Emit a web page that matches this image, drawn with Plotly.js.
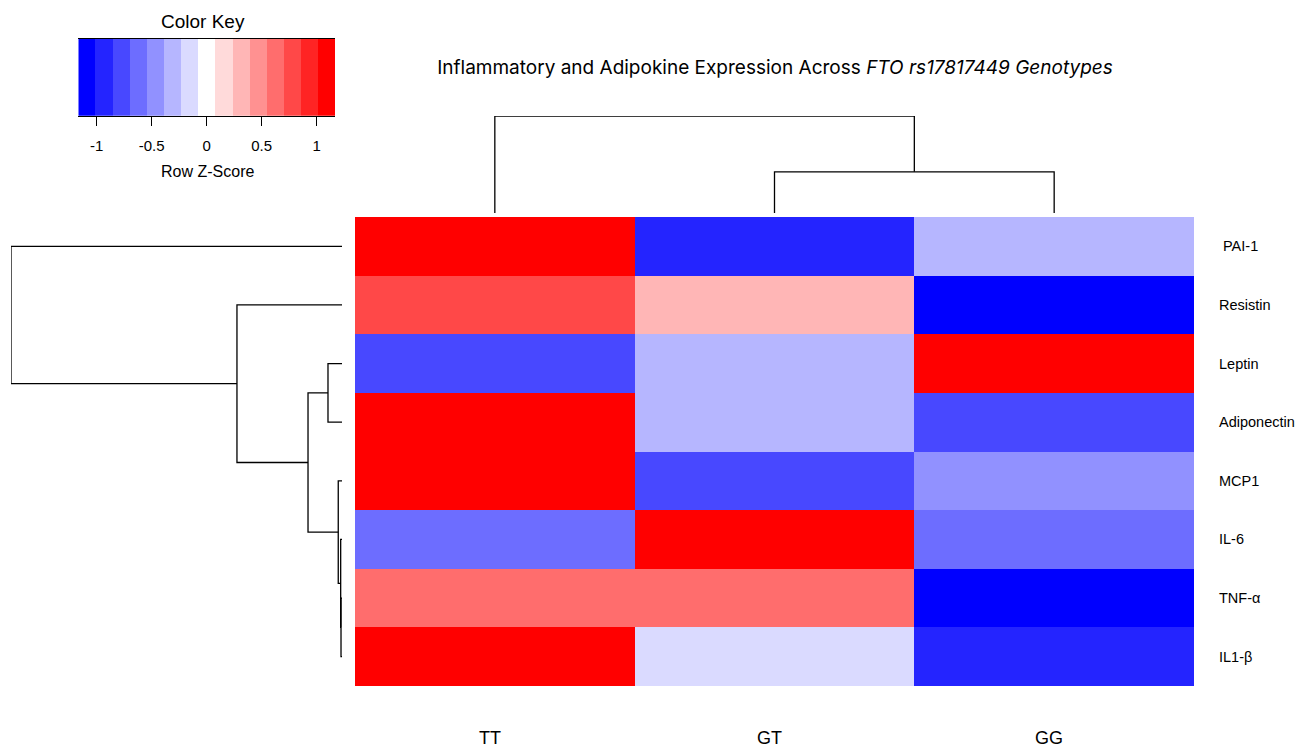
<!DOCTYPE html>
<html>
<head>
<meta charset="utf-8">
<script src="https://cdn.plot.ly/plotly-3.0.1.min.js"></script>
<style>html,body{margin:0;padding:0;background:#fff;}#chart{width:1305px;height:747px;}</style>
</head>
<body>
<div id="chart"></div>
<script>
// ---- data ----
var genotypes = ['TT', 'GT', 'GG'];
var markers = ['\u00a0PAI-1', 'Resistin', 'Leptin', 'Adiponectin', 'MCP1', 'IL-6', 'TNF-\u03b1', 'IL1-\u03b2'];
// row z-scores per genotype
var zTT = [1.10, 0.85, -0.80, 1.12, 1.12, -0.577, 0.577, 1.10];
var zGT = [-0.90, 0.30, -0.35, -0.32, -0.80, 1.155, 0.577, -0.15];
var zGG = [-0.27, -1.15, 1.15, -0.80, -0.45, -0.577, -1.155, -0.95];
// row dendrogram (hclust style merges: negative = leaf index+1, positive = merge number)
var rowMerge = [[-7, -8], [-6, 1], [-5, 2], [-3, -4], [4, 3], [-2, 5], [-1, 6]];
var rowHeight = [0.009, 0.012, 0.034, 0.127, 0.308, 0.952, 3.0];
// column dendrogram
var colMerge = [[-2, -3], [-1, 1]];
var colHeight = [0.85, 2.0];
// colour key
var keyColors = ['#0000FF', '#2424FF', '#4848FF', '#6D6DFF', '#9191FF', '#B6B6FF', '#DADAFF', '#FFFFFF',
                 '#FFDADA', '#FFB6B6', '#FF9191', '#FF6D6D', '#FF4848', '#FF2424', '#FF0000'];
var keyMin = -1.167, keyMax = 1.167;
var keyTicks = [-1, -0.5, 0, 0.5, 1];

// ---- build ----
var W = 1305, H = 747;
function px(x) { return x / W; }
function py(y) { return 1 - y / H; }

var nBins = keyColors.length;
var colorscale = [];
for (var i = 0; i < nBins; i++) {
  colorscale.push([i / nBins, keyColors[i]]);
  colorscale.push([(i + 1) / nBins, keyColors[i]]);
}

var z = markers.map(function (m, r) { return [zTT[r], zGT[r], zGG[r]]; });

function dendroLines(merge, heights) {
  var pos = [], hgt = [];
  var a = [], b = [];
  function info(idx) {
    if (idx < 0) return { p: -idx - 1, h: 0 };
    return { p: pos[idx - 1], h: hgt[idx - 1] };
  }
  merge.forEach(function (m, k) {
    var c1 = info(m[0]), c2 = info(m[1]), h = heights[k];
    a.push(c1.p, c1.p, c2.p, c2.p, null);
    b.push(c1.h, h, h, c2.h, null);
    pos.push((c1.p + c2.p) / 2);
    hgt.push(h);
  });
  return { a: a, b: b };
}

var rowD = dendroLines(rowMerge, rowHeight);
var colD = dendroLines(colMerge, colHeight);

var binW = (keyMax - keyMin) / nBins;
var keyX = keyColors.map(function (c, i) { return keyMin + binW * (i + 0.5); });

var traces = [
  {
    type: 'heatmap', z: z, x: [0, 1, 2], y: markers.map(function (m, i) { return i; }),
    colorscale: colorscale, zmin: keyMin, zmax: keyMax, showscale: false,
    xaxis: 'x', yaxis: 'y', hoverinfo: 'z'
  },
  {
    type: 'scatter', mode: 'lines', x: colD.a, y: colD.b,
    line: { color: '#000', width: 1.3 }, xaxis: 'x2', yaxis: 'y2', hoverinfo: 'skip', showlegend: false
  },
  {
    type: 'scatter', mode: 'lines', x: rowD.b, y: rowD.a,
    line: { color: '#000', width: 1.3 }, xaxis: 'x3', yaxis: 'y3', hoverinfo: 'skip', showlegend: false
  },
  {
    type: 'heatmap', z: [keyX], x: keyX, y: [0],
    colorscale: colorscale, zmin: keyMin, zmax: keyMax, showscale: false,
    xaxis: 'x4', yaxis: 'y4', hoverinfo: 'skip'
  }
];

var hide = { showgrid: false, zeroline: false, showticklabels: false, ticks: '', showline: false };
var hmL = 355, hmR = 1194, hmT = 217, hmB = 686;

var annotations = [];
markers.forEach(function (m, i) {
  annotations.push({
    text: m, xref: 'paper', yref: 'y', x: px(1217), y: i, xanchor: 'left', yanchor: 'middle',
    showarrow: false, font: { family: 'Liberation Sans, Arial, sans-serif', size: 14.5, color: '#000' }
  });
});
genotypes.forEach(function (g, i) {
  annotations.push({
    text: g, xref: 'x', yref: 'paper', x: i, y: py(738), xanchor: 'center', yanchor: 'middle', xshift: -5,
    showarrow: false, font: { family: 'Liberation Sans Narrow, Liberation Sans, Arial, sans-serif', size: 18, color: '#000' }
  });
});
annotations.push({
  text: 'Color Key', xref: 'paper', yref: 'paper', x: px(203), y: py(21), xanchor: 'center', yanchor: 'middle',
  showarrow: false, font: { family: 'Liberation Sans, Arial, sans-serif', size: 19, color: '#000' }
});
annotations.push({
  text: 'Row Z-Score', xref: 'paper', yref: 'paper', x: px(207), y: py(172), xanchor: 'center', yanchor: 'middle',
  showarrow: false, font: { family: 'Liberation Sans, Arial, sans-serif', size: 16, color: '#000' }
});

var layout = {
  width: W, height: H, autosize: false,
  margin: { l: 0, r: 0, t: 0, b: 0, pad: 0 },
  paper_bgcolor: '#fff', plot_bgcolor: '#fff',
  showlegend: false,
  title: {
    text: 'Inflammatory and Adipokine Expression Across <i>FTO rs17817449 Genotypes</i>',
    x: px(775), y: py(67), xref: 'paper', yref: 'paper', xanchor: 'center', yanchor: 'middle',
    font: { family: 'Inter, sans-serif', size: 19, color: '#000' }
  },
  xaxis: Object.assign({}, hide, { domain: [px(hmL), px(hmR)], range: [-0.5, 2.5], fixedrange: true }),
  yaxis: Object.assign({}, hide, { domain: [py(hmB), py(hmT)], range: [7.5, -0.5], fixedrange: true }),
  xaxis2: Object.assign({}, hide, { domain: [px(hmL), px(hmR)], range: [-0.5, 2.5], anchor: 'y2' }),
  yaxis2: Object.assign({}, hide, { domain: [py(213), py(116)], range: [0, colHeight[colHeight.length - 1]], anchor: 'x2' }),
  xaxis3: Object.assign({}, hide, { domain: [px(11), px(342)], range: [rowHeight[rowHeight.length - 1], 0], anchor: 'y3' }),
  yaxis3: Object.assign({}, hide, { domain: [py(hmB), py(hmT)], range: [7.5, -0.5], anchor: 'x3' }),
  xaxis4: {
    domain: [px(78.3), px(335)], range: [keyMin, keyMax], anchor: 'y4',
    showgrid: false, zeroline: false, showline: true, mirror: true, linecolor: '#000', linewidth: 1.3,
    ticks: 'outside', ticklen: 9, tickwidth: 1.3, tickcolor: '#000',
    tickvals: keyTicks, ticktext: keyTicks.map(String), ticklabelstandoff: 7,
    tickfont: { family: 'Liberation Sans, Arial, sans-serif', size: 15, color: '#000' }
  },
  yaxis4: Object.assign({}, hide, { domain: [py(115.7), py(39)], range: [-0.5, 0.5], anchor: 'x4' }),
  annotations: annotations
};

Plotly.newPlot('chart', traces, layout, { staticPlot: true, displayModeBar: false });
</script>
</body>
</html>
